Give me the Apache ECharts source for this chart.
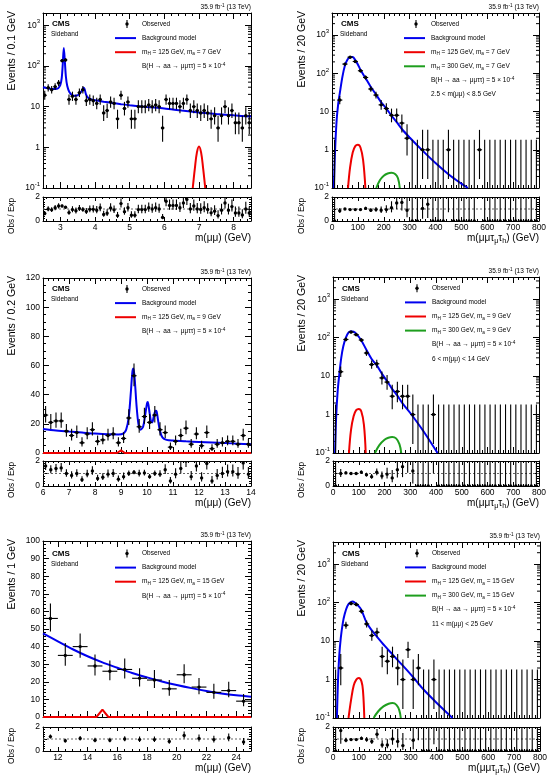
<!DOCTYPE html>
<html>
<head>
<meta charset="utf-8">
<title>Sideband fits</title>
<script src="https://cdn.jsdelivr.net/npm/echarts@6.0.0/dist/echarts.min.js"></script>
<style>
  html, body { margin: 0; padding: 0; background: #fff; }
  #main { width: 554px; height: 777px; }
</style>
</head>
<body>
<div id="main"></div>
<script>
// ---------------- values ----------------

// 2.5 < m(mumu) < 8.5 GeV, 0.1 GeV bins
const binsMuMu1 = { lo: 2.5, width: 0.1 };
const obsMuMu1 = [19, 29, 26, 31, 38, 135, 140, 15, 18, 15,
  22, 26, 14, 15, 14, 12, 15, 7, 8, 13,
  12, 5, 19, 9, 13, 5, 5, 10, 10, 10,
  11, 10, 11, 10, 3, 15, 12, 12, 12, 10,
  12, 15, 8, 10, 8, 7, 8, 7, 5, 6,
  3, 6, 10, 6, 8, 4, 4, 3, 6, 4];
const ratioMuMu1 = [0.63, 1.0, 0.93, 1.1, 1.25, 1.25, 1.15, 0.7, 0.95, 0.85,
  1.05, 0.95, 0.8, 0.97, 0.97, 0.9, 1.1, 0.55, 0.65, 1.08,
  0.93, 0.45, 1.45, 0.78, 1.1, 0.48, 0.48, 0.95, 0.95, 0.95,
  1.1, 1.0, 1.1, 1.0, 0.3, 1.65, 1.3, 1.3, 1.3, 1.1,
  1.5, 1.8, 1.0, 1.25, 1.0, 0.96, 1.1, 0.96, 0.68, 0.82,
  0.45, 0.9, 1.5, 0.9, 1.2, 0.67, 0.67, 0.5, 1.0, 0.67];
const bkgMuMu1 = [[2.5, 30], [2.6, 28.5], [2.7, 27.5], [2.8, 27], [2.9, 27.5], [2.95, 29], [3.0, 34],
  [3.04, 50], [3.07, 110], [3.1, 275], [3.13, 130], [3.16, 55], [3.2, 32], [3.26, 23], [3.35, 19],
  [3.45, 18.5], [3.55, 20.5], [3.62, 24.5], [3.67, 29], [3.7, 27], [3.74, 20], [3.8, 16.5], [3.9, 15],
  [4.0, 14.3], [4.25, 13.2], [4.5, 12.3], [4.75, 11.5], [5.0, 10.8], [5.5, 9.8], [6.0, 9.0], [6.5, 8.0],
  [7.0, 7.2], [7.5, 6.6], [8.0, 6.1], [8.5, 5.7]];
const sigMuMu1 = [[6.82, 0.1], [6.88, 0.3], [6.94, 0.75], [7.0, 1.05], [7.06, 0.75], [7.12, 0.3], [7.18, 0.1]];
const xTicksMuMu1 = [3, 4, 5, 6, 7, 8];

// 6 < m(mumu) < 14 GeV, 0.2 GeV bins
const binsMuMu2 = { lo: 6, width: 0.2 };
const obsMuMu2 = [26, 21, 22, 22, 15, 12, 14, 7, 13, 16,
  8, 9, 12, 13, 7, 10, 24, 53, 18, 25,
  21, 26, 16, 14, 4, 8, 12, 17, 6, 13,
  5, 14, 3, 6, 7, 8, 8, 6, 12, 6];
const ratioMuMu2 = [1.6, 1.3, 1.4, 1.45, 1.0, 0.85, 1.0, 0.5, 0.95, 1.2,
  0.6, 0.7, 0.95, 1.0, 0.55, 0.75, 1.0, 1.1, 1.0, 1.05,
  0.75, 1.0, 0.95, 1.3, 0.4, 0.95, 1.4, 2.0, 0.75, 1.6,
  0.65, 1.8, 0.4, 0.85, 1.0, 1.15, 1.15, 0.95, 1.85, 0.95];
const bkgMuMu2 = [[6, 16.5], [6.5, 15.5], [7, 14.7], [7.5, 14], [8, 13.3], [8.5, 12.8], [8.9, 12.7],
  [9.1, 13.5], [9.2, 16], [9.3, 25], [9.38, 42], [9.44, 56], [9.48, 58], [9.53, 50], [9.6, 32],
  [9.67, 20], [9.75, 16], [9.85, 18], [9.93, 26], [10.0, 34], [10.03, 35], [10.08, 30], [10.15, 22],
  [10.2, 21], [10.27, 26], [10.33, 29], [10.37, 28.5], [10.43, 22], [10.5, 15], [10.6, 10.5],
  [10.75, 9], [11, 8.5], [11.5, 8], [12, 7.6], [12.5, 7.2], [13, 6.8], [13.5, 6.4], [14, 6]];
const sigMuMu2 = [[6, 0], [8.85, 0], [9.0, 1.8], [9.15, 0], [14, 0]];
const xTicksMuMu2 = [6, 7, 8, 9, 10, 11, 12, 13, 14];

// 11 < m(mumu) < 25 GeV, 1 GeV bins
const binsMuMu3 = { lo: 11, width: 1 };
const obsMuMu3 = [56, 35, 40, 29, 26, 27, 22, 21, 16, 24, 17, 14, 15, 9];
const ratioMuMu3 = [1.2, 0.85, 1.05, 0.9, 0.9, 1.0, 0.95, 0.95, 0.8, 1.3, 1.05, 0.95, 1.1, 0.75];
const bkgMuMu3 = [[11, 47.5], [12, 43], [13, 38.5], [14, 34.5], [15, 31], [16, 28], [17, 25], [18, 22.5],
  [19, 20.2], [20, 18.2], [21, 16.4], [22, 14.8], [23, 13.4], [24, 12.3], [25, 11.5]];
const sigMuMu3 = [[11, 0], [14.6, 0], [15, 4.2], [15.4, 0], [25, 0]];
const xTicksMuMu3 = [12, 14, 16, 18, 20, 22, 24];

// m(mumu tau_mu tau_h), 20 GeV bins from 0 to 800 GeV
const binsVis = { lo: 0, width: 20 };
const xTicksVis = [0, 100, 200, 300, 400, 500, 600, 700, 800];

const obsVis1 = [0, 20, 175, 265, 205, 117, 78, 39, 27, 15,
  12, 8, 8, 5, 2, 0, 0, 1, 1, 0,
  0, 0, 1, 0, 0, 0, 0, 0, 1, 0,
  0, 0, 0, 0, 0, 0, 0, 0, 0, 0];
const ratioVis1 = [0, 0.85, 1.0, 0.95, 0.95, 0.95, 1.05, 0.9, 0.95, 0.9,
  0.95, 1.1, 1.5, 1.55, 0.9, 0, 0, 1.05, 1.4, 0,
  0, 0, 4.3, 0, 0, 0, 0, 0, 15, 0,
  0, 0, 0, 0, 0, 0, 0, 0, 0, 0];
const bkgVis1 = [[7, 0.1], [12, 1], [18, 6], [24, 16], [30, 30], [40, 80], [50, 160], [60, 230], [70, 270],
  [80, 268], [90, 222], [100, 170], [110, 125], [130, 74], [150, 44], [170, 28], [190, 17.5], [210, 12],
  [230, 7.8], [250, 5.3], [270, 3.5], [300, 2.1], [350, 0.95], [400, 0.45], [450, 0.23], [500, 0.13], [525, 0.1]];
const sig125Vis1 = [[62, 0.1], [70, 0.35], [80, 0.85], [90, 1.25], [100, 1.35], [110, 1.15], [120, 0.55], [129, 0.1]];
const sig300Vis1 = [[171, 0.1], [185, 0.16], [200, 0.21], [215, 0.24], [230, 0.25], [245, 0.23], [255, 0.18], [262, 0.1]];

const obsVis2 = [0, 13, 90, 140, 120, 87, 40, 20, 21, 9,
  7, 3, 4, 3, 3, 1, 0, 0, 0, 1,
  0, 0, 0, 0, 0, 0, 0, 0, 0, 0,
  0, 0, 0, 0, 0, 0, 0, 0, 0, 0];
const ratioVis2 = [0, 1.0, 1.05, 1.0, 1.0, 1.1, 0.9, 0.75, 1.1, 0.8,
  0.95, 0.65, 1.3, 1.55, 2.3, 1.2, 0, 0, 0, 6,
  0, 0, 0, 0, 0, 0, 0, 0, 0, 0,
  0, 0, 0, 0, 0, 0, 0, 0, 0, 0];
const bkgVis2 = [[8, 0.1], [12, 0.8], [18, 4], [25, 12], [32, 30], [40, 60], [50, 100], [60, 135], [70, 148],
  [80, 143], [90, 128], [110, 85], [130, 48], [150, 28], [170, 19], [190, 11.5], [210, 7.4], [230, 4.6],
  [250, 3.1], [270, 1.95], [300, 1.1], [350, 0.38], [406, 0.1]];
const sig125Vis2 = [[62, 0.1], [70, 0.4], [80, 0.9], [90, 1.3], [100, 1.4], [110, 1.2], [120, 0.55], [127, 0.1]];
const sig300Vis2 = [[163, 0.1], [180, 0.16], [200, 0.22], [215, 0.25], [230, 0.26], [245, 0.24], [258, 0.17], [265, 0.1]];

const obsVis3 = [0, 2, 26, 95, 90, 60, 28, 14, 17, 4,
  3, 4, 2, 1, 6, 1, 2, 0, 0, 1,
  0, 0, 0, 0, 0, 0, 0, 0, 0, 0,
  0, 0, 0, 0, 0, 0, 0, 0, 0, 0];
const ratioVis3 = [0, 1.7, 0.9, 0.95, 0.95, 1.05, 0.95, 0.8, 1.4, 0.5,
  0.5, 1.0, 0.8, 0.45, 4.6, 0.9, 2.5, 0, 0, 3.3,
  0, 0, 0, 0, 0, 0, 0, 0, 0, 0,
  0, 0, 0, 0, 0, 0, 0, 0, 0, 0];
const bkgVis3 = [[15, 0.1], [19, 0.8], [24, 4], [30, 12], [38, 30], [45, 50], [55, 80], [65, 100], [75, 108],
  [85, 100], [100, 80], [110, 64], [130, 30], [150, 19], [170, 13], [200, 7.5], [230, 4.5], [250, 3.2],
  [270, 2.3], [310, 1.15], [350, 0.55], [400, 0.25], [462, 0.1]];
const sig125Vis3 = [[60, 0.1], [70, 0.3], [80, 0.7], [90, 1.0], [100, 1.1], [110, 0.9], [116, 0.5], [121, 0.1]];
const sig300Vis3 = [[157, 0.1], [175, 0.15], [195, 0.2], [215, 0.235], [230, 0.245], [245, 0.22], [256, 0.16], [262, 0.1]];

// ---------------- drawing ----------------
const FONT = '"Liberation Sans", Arial, Helvetica, sans-serif';
const BLUE = '#0000ee';
const RED = '#ee0000';
const GREEN = '#1e9e1e';

// approximate Poisson (Gehrels) 68% interval
function poisson(n) {
  if (n <= 0) return [0, 1.84];
  return [n * Math.pow(1 - 1 / (9 * n) - 1 / (3 * Math.sqrt(n)), 3), n + Math.sqrt(n + 0.75) + 1];
}

function histPoints(counts, bins) {
  return counts.map((n, i) => {
    const e = poisson(n);
    return [bins.lo + bins.width * (i + 0.5), n, e[0], e[1], bins.width / 2];
  });
}

function ratioPoints(ratio, counts, bins) {
  return ratio.map((r, i) => {
    const n = counts[i];
    const x = bins.lo + bins.width * (i + 0.5);
    if (n === 0) return [x, 0, 0, 99, 0];
    const e = poisson(n);
    return [x, r, r * e[0] / n, r * e[1] / n, 0];
  });
}

function errRender(yMin, yMax, markZero) {
  return function (params, api) {
    const x = api.value(0), y = api.value(1), hw = api.value(4);
    const lo = Math.max(api.value(2), yMin), hi = Math.min(api.value(3), yMax);
    const kids = [];
    if (hi > lo) {
      const a = api.coord([x, hi]), b = api.coord([x, lo]);
      kids.push({ type: 'line', shape: { x1: a[0], y1: a[1], x2: b[0], y2: b[1] }, style: { stroke: '#000', lineWidth: 1.1 } });
    }
    const visible = markZero ? (y >= yMin && y <= yMax) : (y > yMin && y <= yMax);
    if (visible) {
      const c = api.coord([x, y]);
      if (hw > 0) {
        const l = api.coord([x - hw, y]), r = api.coord([x + hw, y]);
        kids.push({ type: 'line', shape: { x1: l[0], y1: l[1], x2: r[0], y2: r[1] }, style: { stroke: '#000', lineWidth: 1.1 } });
      }
      kids.push({ type: 'circle', shape: { cx: c[0], cy: c[1], r: 1.7 }, style: { fill: '#000' } });
    }
    return { type: 'group', children: kids };
  };
}

function minorLogRender(params, api) {
  const p = api.coord([api.value(0), api.value(1)]);
  const cs = params.coordSys;
  const st = { stroke: '#000', lineWidth: 1 };
  return {
    type: 'group', children: [
      { type: 'line', shape: { x1: cs.x, y1: p[1], x2: cs.x + 3, y2: p[1] }, style: st },
      { type: 'line', shape: { x1: cs.x + cs.width - 3, y1: p[1], x2: cs.x + cs.width, y2: p[1] }, style: st }
    ]
  };
}

function logMinorValues(min, max) {
  const out = [];
  for (let e = -2; e <= 4; e++) {
    for (let k = 2; k <= 9; k++) {
      const v = k * Math.pow(10, e);
      if (v > min && v < max) out.push(v);
    }
  }
  return out;
}

function logLabel(v) {
  const e = Math.round(Math.log10(v));
  if (Math.abs(Math.log10(v) - e) > 1e-6) return '';
  if (e === 0) return '1';
  if (e === 1) return '10';
  return '10{sup|' + e + '}';
}

const option = { animation: false, grid: [], xAxis: [], yAxis: [], series: [], graphic: { elements: [] } };
const G = option.graphic.elements;

function lineStyleBlack() { return { color: '#000', width: 1 }; }

function addX(grid, s, withLabels, tick) {
  const idx = option.xAxis.length;
  ['bottom', 'top'].forEach(pos => {
    const ax = {
      type: 'value', gridIndex: grid, position: pos, min: s.min, max: s.max,
      axisLine: { show: true, onZero: false, lineStyle: lineStyleBlack() },
      axisTick: { show: true, inside: true, length: tick, lineStyle: lineStyleBlack() },
      minorTick: { show: true, splitNumber: s.minor, length: tick / 2, lineStyle: lineStyleBlack() },
      splitLine: { show: false },
      axisLabel: { show: false }
    };
    if (s.interval) ax.interval = s.interval; else ax.splitNumber = s.splitNumber;
    if (pos === 'bottom' && withLabels) {
      ax.axisLabel = {
        show: true, color: '#000', fontFamily: FONT, fontSize: 8.5, margin: 2.5,
        showMinLabel: true, showMaxLabel: true, hideOverlap: false,
        formatter: v => { const t = s.labels.find(t => Math.abs(t - v) < 1e-6); return t === undefined ? '' : String(t); }
      };
    }
    option.xAxis.push(ax);
  });
  return idx;
}

function addY(grid, s, tick) {
  const idx = option.yAxis.length;
  ['left', 'right'].forEach(pos => {
    const ax = {
      type: s.type, gridIndex: grid, position: pos, min: s.min, max: s.max,
      axisLine: { show: true, onZero: false, lineStyle: lineStyleBlack() },
      axisTick: { show: true, inside: true, length: tick, lineStyle: lineStyleBlack() },
      splitLine: { show: false },
      axisLabel: { show: false }
    };
    if (s.type === 'log') {
      ax.logBase = 10;
      ax.minorTick = { show: false };
    } else {
      ax.interval = s.interval;
      ax.minorTick = { show: true, splitNumber: s.minor, length: tick / 2, lineStyle: lineStyleBlack() };
    }
    if (pos === 'left') {
      ax.axisLabel = {
        show: true, color: '#000', fontFamily: FONT, fontSize: 8.5, margin: 3,
        showMinLabel: true, showMaxLabel: true, hideOverlap: false,
        formatter: s.type === 'log' ? logLabel : (v => String(v)),
        rich: { sup: { fontSize: 6, fontFamily: FONT, color: '#000', verticalAlign: 'top', lineHeight: 7 } },
        lineHeight: 13
      };
    }
    option.yAxis.push(ax);
  });
  return idx;
}

function richStyle(size) {
  const s = Math.round(size * 0.72 * 10) / 10;
  const lh = Math.round(size * 0.8);
  return {
    sub: { fontSize: s, fontFamily: FONT, fill: '#000', verticalAlign: 'bottom', lineHeight: lh },
    sup: { fontSize: s, fontFamily: FONT, fill: '#000', verticalAlign: 'top', lineHeight: lh }
  };
}

function txt(x, y, text, size, extra) {
  return Object.assign({
    type: 'text', x: x, y: y, silent: true, z: 100,
    style: Object.assign({
      text: text, fill: '#000', fontFamily: FONT, fontSize: size, align: 'left', verticalAlign: 'middle',
      lineHeight: Math.round(size * 1.4), rich: richStyle(size)
    }, extra && extra.style)
  }, extra && extra.el);
}

function seg(x1, y1, x2, y2, color, w) {
  return { type: 'line', silent: true, z: 100, shape: { x1, y1, x2, y2 }, style: { stroke: color, lineWidth: w } };
}

const ratioAxis = { type: 'value', min: 0, max: 2, interval: 1, minor: 5 };

function addPanel(p) {
  const gMain = option.grid.length;
  const [l, t, w, h] = p.box;
  const [rl, rt, rw, rh] = p.ratioBox;
  option.grid.push({ left: l, top: t, width: w, height: h, outerBoundsMode: 'none' });
  option.grid.push({ left: rl, top: rt, width: rw, height: rh, outerBoundsMode: 'none' });
  const gRatio = gMain + 1;

  const xMain = addX(gMain, p.x, false, 6);
  const xRatio = addX(gRatio, p.x, true, 4);
  const yMain = addY(gMain, p.y, 6);
  const yRatio = addY(gRatio, ratioAxis, 4);

  if (p.y.type === 'log') {
    option.series.push({
      type: 'custom', xAxisIndex: xMain, yAxisIndex: yMain, silent: true, z: 1,
      data: logMinorValues(p.y.min, p.y.max).map(v => [p.x.min, v]),
      encode: { x: 0, y: 1 }, renderItem: minorLogRender
    });
  }

  p.curves.forEach(c => {
    option.series.push({
      type: 'line', xAxisIndex: xMain, yAxisIndex: yMain, data: c.data, smooth: c.smooth,
      symbol: 'none', showSymbol: false, clip: true, silent: true, z: 3,
      lineStyle: { color: c.color, width: 2 }
    });
  });

  const yLow = p.y.type === 'log' ? p.y.min : 0;
  option.series.push({
    type: 'custom', xAxisIndex: xMain, yAxisIndex: yMain, silent: true, z: 5, clip: true,
    data: histPoints(p.obs, p.bins), encode: { x: 0, y: 3 },
    renderItem: errRender(yLow, p.y.max, false)
  });

  option.series.push({
    type: 'line', xAxisIndex: xRatio, yAxisIndex: yRatio, silent: true, z: 3, symbol: 'none',
    data: [[p.x.min, 1], [p.x.max, 1]],
    lineStyle: { color: '#666', width: 1, type: [2, 2] }
  });
  option.series.push({
    type: 'custom', xAxisIndex: xRatio, yAxisIndex: yRatio, silent: true, z: 5, clip: true,
    data: ratioPoints(p.ratio, p.obs, p.bins), encode: { x: 0, y: 1 },
    renderItem: errRender(0, 2, true)
  });

  // texts round the frame
  G.push(txt(l + w, t - 5.5, '35.9 fb{sup|-1} (13 TeV)', 6.5, { style: { align: 'right' } }));
  G.push(txt(p.titleX, t - 2, p.yTitle, 10.5, { style: { align: 'right' }, el: { rotation: Math.PI / 2 } }));
  G.push(txt(p.titleX, rt + 1, 'Obs / Exp', 8.2, { style: { align: 'right' }, el: { rotation: Math.PI / 2 } }));
  G.push(txt(l + w, rt + rh + 17, p.xTitle, 10, { style: { align: 'right' } }));

  // header and legend
  const y0 = t + p.legendTop;
  G.push(txt(l + 9, y0, 'CMS', 8, { style: { fontWeight: 'bold' } }));
  G.push(txt(l + 8, y0 + 10.7, 'Sideband', 6.5));
  p.legend.forEach((row, i) => {
    const y = y0 + i * 14.1;
    if (row.kind === 'obs') {
      G.push(seg(l + 84, y - 4, l + 84, y + 4, '#000', 1.1));
      G.push({ type: 'circle', silent: true, z: 100, shape: { cx: l + 84, cy: y, r: 1.7 }, style: { fill: '#000' } });
    } else if (row.kind === 'line') {
      G.push(seg(l + 72, y, l + 93, y, row.color, 2));
    }
    G.push(txt(l + 99, y, row.text, 6.5));
  });
}

const BR = 'B(H → aa → μμττ) = 5 × 10{sup|-4}';
function legendLeft(ma) {
  return [
    { kind: 'obs', text: 'Observed' },
    { kind: 'line', color: BLUE, text: 'Background model' },
    { kind: 'line', color: RED, text: 'm{sub|H} = 125 GeV, m{sub|a} = ' + ma + ' GeV' },
    { kind: 'text', text: BR }
  ];
}
function legendRight(ma, win) {
  return [
    { kind: 'obs', text: 'Observed' },
    { kind: 'line', color: BLUE, text: 'Background model' },
    { kind: 'line', color: RED, text: 'm{sub|H} = 125 GeV, m{sub|a} = ' + ma + ' GeV' },
    { kind: 'line', color: GREEN, text: 'm{sub|H} = 300 GeV, m{sub|a} = ' + ma + ' GeV' },
    { kind: 'text', text: BR },
    { kind: 'text', text: win }
  ];
}

const xMuMuTitle = 'm(μμ) (GeV)';
const xVisTitle = 'm(μμτ{sub|μ}τ{sub|h}) (GeV)';
const xVis = { min: 0, max: 800, interval: 100, minor: 5, labels: xTicksVis };
const yVis = { type: 'log', min: 0.1, max: 3800 };

const panels = [
  { box: [43, 13, 208, 175], ratioBox: [43, 197, 208, 24], titleX: 12, legendTop: 11,
    x: { min: 2.5, max: 8.5, splitNumber: 6, minor: 5, labels: xTicksMuMu1 },
    y: { type: 'log', min: 0.1, max: 2000 }, bins: binsMuMu1, obs: obsMuMu1, ratio: ratioMuMu1,
    curves: [{ data: bkgMuMu1, color: BLUE, smooth: 0.3 }, { data: sigMuMu1, color: RED, smooth: 0.4 }],
    yTitle: 'Events / 0.1 GeV', xTitle: xMuMuTitle, legend: legendLeft(7) },
  { box: [332, 13, 207, 175], ratioBox: [332, 197, 207, 24], titleX: 302, legendTop: 11,
    x: xVis, y: yVis, bins: binsVis, obs: obsVis1, ratio: ratioVis1,
    curves: [{ data: bkgVis1, color: BLUE, smooth: 0.3 }, { data: sig125Vis1, color: RED, smooth: 0.4 },
      { data: sig300Vis1, color: GREEN, smooth: 0.4 }],
    yTitle: 'Events / 20 GeV', xTitle: xVisTitle, legend: legendRight(7, '2.5 < m(μμ) < 8.5 GeV') },
  { box: [43, 278, 208, 175], ratioBox: [43, 461, 208, 25], titleX: 12, legendTop: 11,
    x: { min: 6, max: 14, interval: 1, minor: 5, labels: xTicksMuMu2 },
    y: { type: 'value', min: 0, max: 120, interval: 20, minor: 4 }, bins: binsMuMu2, obs: obsMuMu2, ratio: ratioMuMu2,
    curves: [{ data: bkgMuMu2, color: BLUE, smooth: 0.3 }, { data: sigMuMu2, color: RED, smooth: false }],
    yTitle: 'Events / 0.2 GeV', xTitle: xMuMuTitle, legend: legendLeft(9) },
  { box: [333, 277, 206, 176], ratioBox: [333, 461, 206, 25], titleX: 302, legendTop: 11.3,
    x: xVis, y: yVis, bins: binsVis, obs: obsVis2, ratio: ratioVis2,
    curves: [{ data: bkgVis2, color: BLUE, smooth: 0.3 }, { data: sig125Vis2, color: RED, smooth: 0.4 },
      { data: sig300Vis2, color: GREEN, smooth: 0.4 }],
    yTitle: 'Events / 20 GeV', xTitle: xVisTitle, legend: legendRight(9, '6 < m(μμ) < 14 GeV') },
  { box: [43, 541, 208, 176], ratioBox: [43, 727, 208, 24], titleX: 12, legendTop: 12.5,
    x: { min: 11, max: 25, splitNumber: 7, minor: 4, labels: xTicksMuMu3 },
    y: { type: 'value', min: 0, max: 100, interval: 10, minor: 5 }, bins: binsMuMu3, obs: obsMuMu3, ratio: ratioMuMu3,
    curves: [{ data: bkgMuMu3, color: BLUE, smooth: 0.3 }, { data: sigMuMu3, color: RED, smooth: false }],
    yTitle: 'Events / 1 GeV', xTitle: xMuMuTitle, legend: legendLeft(15) },
  { box: [333, 542, 207, 176], ratioBox: [333, 727, 207, 24], titleX: 302, legendTop: 11.3,
    x: xVis, y: yVis, bins: binsVis, obs: obsVis3, ratio: ratioVis3,
    curves: [{ data: bkgVis3, color: BLUE, smooth: 0.3 }, { data: sig125Vis3, color: RED, smooth: 0.4 },
      { data: sig300Vis3, color: GREEN, smooth: 0.4 }],
    yTitle: 'Events / 20 GeV', xTitle: xVisTitle, legend: legendRight(15, '11 < m(μμ) < 25 GeV') }
];

panels.forEach(addPanel);

const chart = echarts.init(document.getElementById('main'), null, { renderer: 'canvas' });
chart.setOption(option);
window.addEventListener('resize', () => chart.resize());
</script>
</body>
</html>
